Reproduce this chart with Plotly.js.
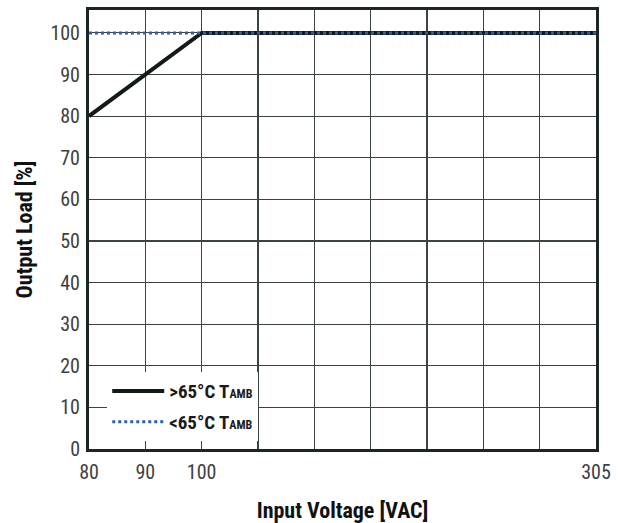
<!DOCTYPE html>
<html><head><meta charset="utf-8">
<script src="https://cdn.plot.ly/plotly-3.0.1.min.js"></script>
<style>html,body{margin:0;padding:0;background:#fff}</style>
</head><body><div id="chart" style="width:622px;height:523px"></div>
<script>
// Axis tick labels (voltage) and their grid column positions
const xTickVoltages = [80, 90, 100, 305];
const xTickPositions = [0, 1, 2, 9];
const xGridColumns = 9;
const yTicks = [0, 10, 20, 30, 40, 50, 60, 70, 80, 90, 100];

// Series: >65°C T_AMB
const hotVoltage = [80, 100, 305];
const hotLoad = [80, 100, 100];
// Series: <65°C T_AMB
const coolVoltage = [80, 305];
const coolLoad = [100, 100];

// Piecewise scale from voltage to grid position (chart's non-uniform axis)
function toPos(v) {
  for (let i = 0; i < xTickVoltages.length - 1; i++) {
    const a = xTickVoltages[i], b = xTickVoltages[i + 1];
    if (v <= b || i === xTickVoltages.length - 2) {
      const pa = xTickPositions[i], pb = xTickPositions[i + 1];
      return pa + (v - a) / (b - a) * (pb - pa);
    }
  }
}

const gridVals = [];
const gridText = [];
for (let i = 0; i <= xGridColumns; i++) {
  gridVals.push(i);
  const k = xTickPositions.indexOf(i);
  gridText.push(k >= 0 ? String(xTickVoltages[k]) : '');
}

const cond = '"Roboto Condensed", "Open Sans Condensed", sans-serif';

const traces = [
  {
    x: hotVoltage.map(toPos), y: hotLoad, mode: 'lines', type: 'scatter',
    name: '>65°C T<span style="font-size:12px">AMB</span>',
    legendgroup: 'hot',
    line: {color: '#121a1a', width: 4}
  },
  {
    x: coolVoltage.map(toPos), y: coolLoad, mode: 'lines', type: 'scatter',
    name: '<65°C T<span style="font-size:12px">AMB</span>',
    legendgroup: 'cool',
    line: {color: '#2d5fae', width: 3, dash: 'dot'}
  }
];

const layout = {
  width: 622, height: 523,
  margin: {l: 89, r: 26, t: 10, b: 74},
  paper_bgcolor: '#fff', plot_bgcolor: '#fff',
  showlegend: true,
  legend: {
    x: 0.036, y: 0.175, xanchor: 'left', yanchor: 'top',
    bgcolor: '#fff', borderwidth: 0,
    font: {family: cond, size: 19, color: '#1a1a1a', weight: 'bold'},
    itemwidth: 52, tracegroupgap: 3
  },
  xaxis: {
    range: [0, xGridColumns],
    tickmode: 'array', tickvals: gridVals, ticktext: gridText,
    showgrid: true, gridcolor: '#3a4444', gridwidth: 1.2,
    zeroline: false,
    showline: true, mirror: true, linecolor: '#1c2626', linewidth: 3,
    ticks: '', ticklabelstandoff: 3,
    tickfont: {family: cond, size: 20, color: '#404040'},
    title: {text: 'Input Voltage [VAC]', font: {family: cond, size: 22, color: '#111', weight: 'bold'}, standoff: 20}
  },
  yaxis: {
    range: [0, 105.5],
    tickmode: 'array', tickvals: yTicks,
    showgrid: true, gridcolor: '#3a4444', gridwidth: 1.2,
    zeroline: false,
    showline: true, mirror: true, linecolor: '#1c2626', linewidth: 3,
    ticks: '', ticklabelstandoff: 2,
    tickfont: {family: cond, size: 20, color: '#404040'},
    title: {text: 'Output Load [%]', font: {family: cond, size: 22, color: '#111', weight: 'bold'}, standoff: 12}
  }
};

Plotly.newPlot('chart', traces, layout, {displayModeBar: false, staticPlot: true});
</script></body></html>
